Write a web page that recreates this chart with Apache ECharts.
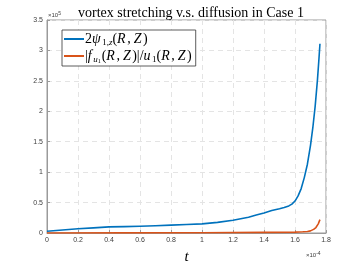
<!DOCTYPE html>
<html><head><meta charset="utf-8">
<script src="https://cdn.jsdelivr.net/npm/echarts@6/dist/echarts.min.js"></script>
<style>html,body{margin:0;padding:0;background:#fff}#c{width:360px;height:270px}</style>
</head><body><div id="c"></div>
<script>
// t in units of 1e-4, values in units of 1e5
var blueT = [0,0.1,0.2,0.3,0.4,0.5,0.6,0.7,0.8,0.9,1.0,1.1,1.2,1.3,1.35,1.4,1.45,1.5,1.53,1.56,1.58,1.6,1.62,1.64,1.66,1.68,1.70,1.715,1.73,1.745,1.755,1.761];
var blueV = [0.03,0.05,0.07,0.085,0.10,0.105,0.11,0.12,0.13,0.14,0.15,0.175,0.21,0.26,0.295,0.33,0.37,0.40,0.42,0.445,0.475,0.525,0.61,0.73,0.91,1.13,1.44,1.73,2.08,2.52,2.88,3.11];
var orangeT = [0,0.5,1.0,1.4,1.6,1.65,1.68,1.70,1.72,1.735,1.75,1.761];
var orangeV = [0,0.002,0.005,0.01,0.015,0.02,0.025,0.035,0.06,0.09,0.15,0.22];
var xTicks = [0,0.2,0.4,0.6,0.8,1,1.2,1.4,1.6,1.8];
var yTicks = [0,0.5,1,1.5,2,2.5,3,3.5];
var titleText = 'vortex stretching v.s. diffusion in Case 1';
var seriesNames = ['blue','orange'];

function pairs(t, v){ return t.map(function(x,i){ return [x, v[i]]; }); }
var serif = '"Liberation Serif","DejaVu Serif",serif';
var sans = '"Liberation Sans",Arial,sans-serif';
var rich = {
  n:{fontFamily:serif,fontSize:14,color:'#000'},
  c:{fontFamily:serif,fontSize:14,color:'#000',padding:[0,3,0,0]},
  i:{fontFamily:serif,fontSize:14,fontStyle:'italic',color:'#000',padding:[0,1.5,0,0]},
  s:{fontFamily:serif,fontSize:9,fontStyle:'italic',color:'#000',verticalAlign:'bottom',padding:[7,0,0,0]},
  s2:{fontFamily:serif,fontSize:9,color:'#000',verticalAlign:'bottom',padding:[7,0,0,0]},
  ss:{fontFamily:serif,fontSize:6,color:'#000',verticalAlign:'bottom',padding:[9,1,0,0]}
};
var legendLabels = {
  blue:'{n|2}{i|ψ}{s2|1,}{s|z}{n|(}{i|R}{c|,}{i|Z}{n|)}',
  orange:'{n||}{i|f}{s|u}{ss|1}{n|(}{i|R}{c|,}{i|Z}{n|)|/}{i|u}{s2|1}{n|(}{i|R}{c|,}{i|Z}{n|)}'
};
var chart = echarts.init(document.getElementById('c'), null, {renderer:'canvas'});
chart.setOption({
  animation:false,
  backgroundColor:'#fff',
  title:{text:titleText,left:186,textAlign:'center',top:1,textStyle:{fontFamily:serif,fontSize:14,fontWeight:'normal',color:'#000'}},
  grid:{left:47,right:34,top:20,bottom:30,show:true,borderColor:'#9a9a9a',borderWidth:1},
  legend:{
    left:62,top:30,orient:'vertical',itemWidth:20,itemHeight:2,itemGap:2,
    padding:[2,4,2,2],
    backgroundColor:'#fff',borderColor:'#333',borderWidth:0.8,borderRadius:0,
    data:seriesNames.map(function(n){return {name:n,icon:'rect'};}),
    formatter:function(n){return legendLabels[n];},
    textStyle:{rich:rich,padding:[0,0,0,-4]}
  },
  xAxis:{type:'value',min:0,max:1.8,interval:0.2,
    name:'t',nameLocation:'middle',nameGap:17,
    nameTextStyle:{fontFamily:serif,fontStyle:'italic',fontSize:15,color:'#000'},
    axisLine:{show:true,lineStyle:{color:'#9a9a9a'}},
    axisTick:{show:true,inside:true,length:3,lineStyle:{color:'#9a9a9a'}},
    axisLabel:{fontFamily:sans,fontSize:7,color:'#404040',margin:4,
      formatter:function(v){return String(xTicks[Math.round(v/0.2)]);}},
    splitLine:{show:true,lineStyle:{color:'#e4e4e4',type:[5,4]}}
  },
  yAxis:{type:'value',min:0,max:3.5,interval:0.5,
    axisLine:{show:true,lineStyle:{color:'#9a9a9a'}},
    axisTick:{show:true,inside:true,length:3,lineStyle:{color:'#9a9a9a'}},
    axisLabel:{fontFamily:sans,fontSize:7,color:'#404040',margin:4,
      formatter:function(v){return String(yTicks[Math.round(v/0.5)]);}},
    splitLine:{show:true,lineStyle:{color:'#e4e4e4',type:[5,4]}}
  },
  graphic:[
    {type:'text',left:48,top:11,style:{text:'{a|×10}{b|5}',rich:{a:{fontFamily:sans,fontSize:6,fill:'#404040'},b:{fontFamily:sans,fontSize:5,fill:'#404040',verticalAlign:'top',padding:[0,0,4,0]}}}},
    {type:'text',left:306,top:251,style:{text:'{a|×10}{b|-4}',rich:{a:{fontFamily:sans,fontSize:6,fill:'#404040'},b:{fontFamily:sans,fontSize:5,fill:'#404040',verticalAlign:'top',padding:[0,0,4,0]}}}}
  ],
  series:[
    {name:'blue',type:'line',data:pairs(blueT,blueV),smooth:false,showSymbol:false,lineStyle:{color:'#0072BD',width:1.6,join:'round'},itemStyle:{color:'#0072BD'}},
    {name:'orange',type:'line',data:pairs(orangeT,orangeV),smooth:false,showSymbol:false,lineStyle:{color:'#D95319',width:1.6,join:'round'},itemStyle:{color:'#D95319'}}
  ]
});
</script></body></html>
